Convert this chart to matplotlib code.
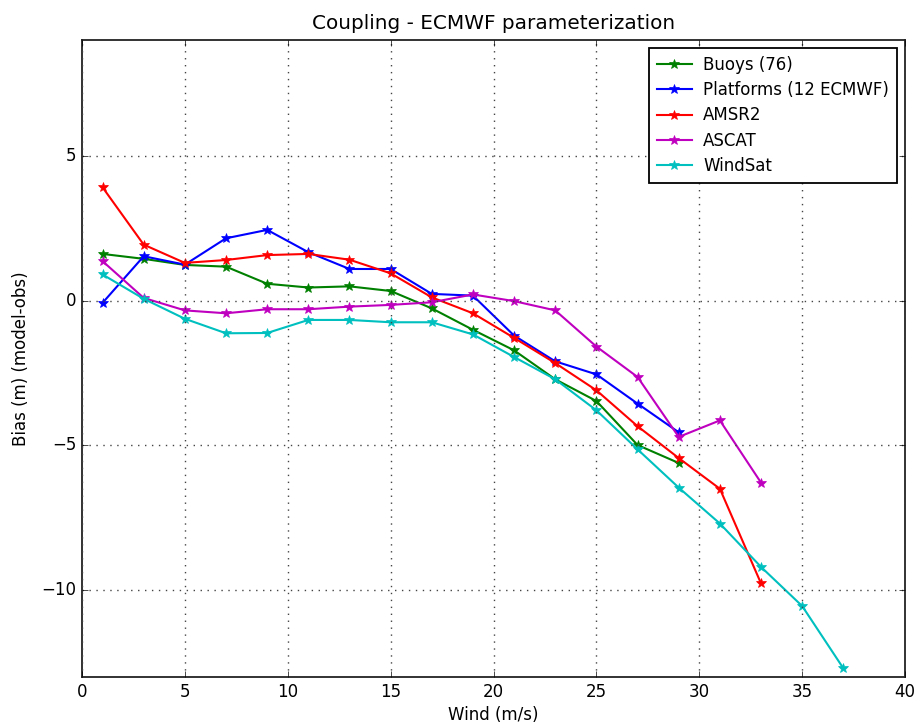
import matplotlib
matplotlib.use('Agg')
import matplotlib.pyplot as plt
import numpy as np

plt.style.use('classic')

wind = [1, 3, 5, 7, 9, 11, 13, 15, 17, 19, 21, 23, 25, 27, 29, 31, 33, 35, 37]

buoys = [1.61, 1.44, 1.23, 1.17, 0.58, 0.45, 0.49, 0.33, -0.27, -1.01, -1.72,
         -2.72, -3.47, -4.99, -5.61]
platforms = [-0.08, 1.53, 1.24, 2.15, 2.44, 1.67, 1.09, 1.09, 0.23, 0.17, -1.21,
             -2.10, -2.55, -3.56, -4.55]
amsr2 = [3.91, 1.93, 1.30, 1.40, 1.57, 1.61, 1.41, 0.94, 0.11, -0.44, -1.29,
         -2.16, -3.10, -4.34, -5.44, -6.50, -9.77]
ascat = [1.36, 0.09, -0.34, -0.44, -0.30, -0.30, -0.21, -0.15, -0.06, 0.21, -0.02,
         -0.34, -1.59, -2.64, -4.71, -4.14, -6.29]
windsat = [0.90, 0.06, -0.63, -1.13, -1.12, -0.67, -0.67, -0.75, -0.75, -1.17, -1.95,
           -2.72, -3.79, -5.14, -6.46, -7.70, -9.20, -10.55, -12.70]

series = [
    ('Buoys (76)', buoys, 'g'),
    ('Platforms (12 ECMWF)', platforms, 'b'),
    ('AMSR2', amsr2, 'r'),
    ('ASCAT', ascat, 'm'),
    ('WindSat', windsat, 'c'),
]

fig = plt.figure(figsize=(9.17, 7.26), dpi=100, facecolor='white')
ax = fig.add_axes([0.0894, 0.0675, 0.8976, 0.8775])

for name, vals, col in series:
    ax.plot(wind[:len(vals)], vals, '-*', color=col, label=name,
            linewidth=1.5, markersize=7, markeredgecolor=col)

ax.set_xlim(0, 40)
ax.set_ylim(-13, 9)
ax.set_yticks([-10, -5, 0, 5])
ax.grid(True, color='#444444', linestyle=(0, (1, 4)), linewidth=1.0)
ax.set_title('Coupling - ECMWF parameterization', fontsize=14.4, pad=8)
ax.set_xlabel('Wind (m/s)', fontsize=12, labelpad=4)
ax.set_ylabel('Bias (m) (model-obs)', fontsize=12, labelpad=8)
ax.tick_params(labelsize=12)
for sp in ax.spines.values():
    sp.set_linewidth(1.3)
    sp.set_color('#222222')
leg = ax.legend(loc='upper right', numpoints=1, fontsize=12, fancybox=False,
                labelspacing=0.44, borderpad=0.45, handlelength=2.1,
                handletextpad=0.7, borderaxespad=0.5)
leg.get_frame().set_linewidth(1.3)

fig.savefig('out.png', dpi=100, facecolor='white')
